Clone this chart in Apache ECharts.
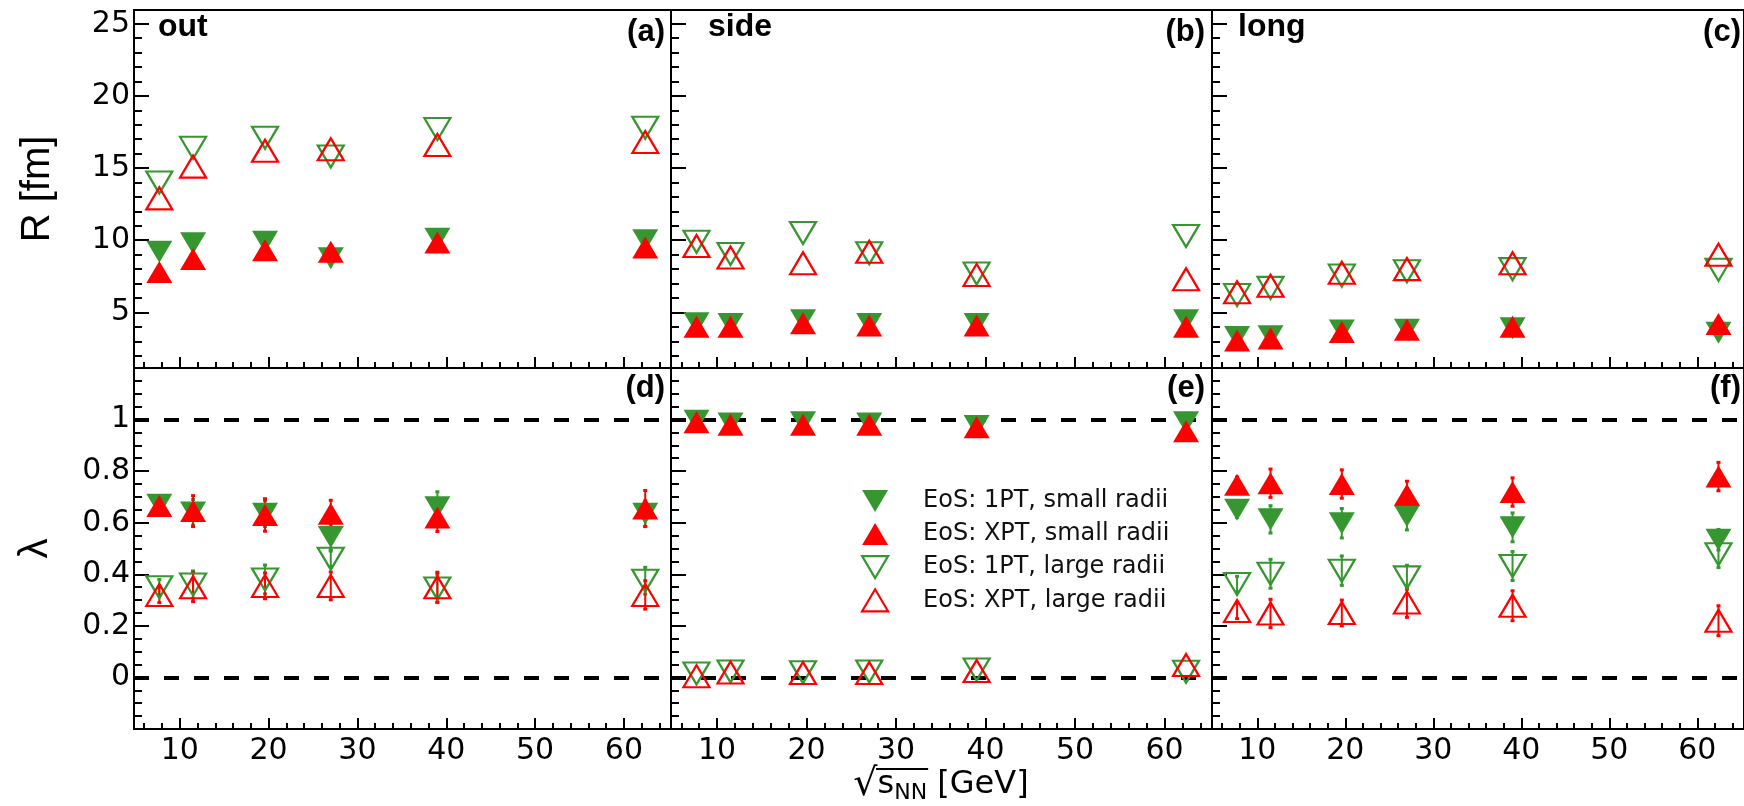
<!DOCTYPE html>
<html><head><meta charset="utf-8">
<script src="https://cdn.jsdelivr.net/npm/echarts@6/dist/echarts.min.js"></script>
<style>html,body{margin:0;padding:0;background:#fff}#c{width:1744px;height:806px}</style>
</head><body><div id="c"></div>
<script>
// ---------------- data ----------------
const energies = [7.7, 11.5, 19.6, 27, 39, 62.4];
const seriesNames = ['EoS: 1PT, small radii', 'EoS: XPT, small radii', 'EoS: 1PT, large radii', 'EoS: XPT, large radii'];

// R_out (panel a)
const Rout_1PT_small = [9.2, 9.8, 9.9, 8.75, 10.1, 10.0];
const Rout_XPT_small = [7.8, 8.7, 9.3, 9.2, 9.85, 9.5];
const Rout_1PT_large = [14.0, 16.4, 17.1, 15.8, 17.7, 17.8];
const Rout_XPT_large = [12.9, 15.1, 16.2, 16.3, 16.6, 16.8];
// R_side (panel b)
const Rside_1PT_small = [4.25, 4.2, 4.45, 4.2, 4.2, 4.45];
const Rside_XPT_small = [4.0, 4.0, 4.25, 4.1, 4.1, 4.0];
const Rside_1PT_large = [9.9, 9.05, 10.5, 9.1, 7.7, 10.3];
const Rside_XPT_large = [9.6, 8.8, 8.4, 9.2, 7.6, 7.3];
// R_long (panel c)
const Rlong_1PT_small = [3.3, 3.35, 3.75, 3.8, 3.9, 3.6];
const Rlong_XPT_small = [3.05, 3.2, 3.65, 3.8, 4.0, 4.2];
const Rlong_1PT_large = [6.2, 6.7, 7.55, 7.85, 8.0, 7.95];
const Rlong_XPT_large = [6.4, 6.85, 7.75, 8.0, 8.4, 9.0];
// lambda out (panel d)
const Lout_1PT_small = [0.67, 0.64, 0.635, 0.545, 0.66, 0.635];
const Lout_XPT_small = [0.665, 0.645, 0.63, 0.635, 0.62, 0.655];
const Lout_1PT_large = [0.35, 0.36, 0.38, 0.46, 0.345, 0.375];
const Lout_XPT_large = [0.32, 0.35, 0.355, 0.355, 0.35, 0.32];
// lambda side (panel e)
const Lside_1PT_small = [0.995, 0.985, 0.99, 0.985, 0.975, 0.99];
const Lside_XPT_small = [0.99, 0.98, 0.98, 0.98, 0.97, 0.955];
const Lside_1PT_large = [0.015, 0.023, 0.02, 0.023, 0.031, 0.022];
const Lside_XPT_large = [0.005, 0.019, 0.017, 0.017, 0.025, 0.048];
// lambda long (panel f)
const Llong_1PT_small = [0.65, 0.613, 0.598, 0.626, 0.582, 0.534];
const Llong_XPT_small = [0.747, 0.753, 0.75, 0.708, 0.719, 0.779];
const Llong_1PT_large = [0.362, 0.402, 0.414, 0.388, 0.432, 0.478];
const Llong_XPT_large = [0.258, 0.248, 0.25, 0.291, 0.278, 0.22];

// lambda uncertainties (panels d and f)
const Lout_1PT_small_err = [0.03, 0.05, 0.05, 0.05, 0.06, 0.05];
const Lout_XPT_small_err = [0.03, 0.06, 0.063, 0.052, 0.054, 0.07];
const Lout_1PT_large_err = [0.03, 0.053, 0.056, 0.03, 0.055, 0.052];
const Lout_XPT_large_err = [0.03, 0.056, 0.05, 0.054, 0.058, 0.055];
const Llong_1PT_small_err = [0.03, 0.053, 0.057, 0.054, 0.056, 0.04];
const Llong_XPT_small_err = [0.03, 0.055, 0.055, 0.053, 0.055, 0.055];
const Llong_1PT_large_err = [0.03, 0.056, 0.057, 0.047, 0.056, 0.052];
const Llong_XPT_large_err = [0.03, 0.055, 0.05, 0.058, 0.058, 0.058];

// tick steps (major / minor); labels: x 10..60, R 5..25, lambda 0..1
const xMajorStep = 10, xMinorStep = 2;
const rMajorStep = 5, rMinorStep = 1;
const lamMajorStep = 0.2, lamMinorStep = 0.05;
const lamRefLines = [0, 1];

const panelTitles = ['out', 'side', 'long'];
const panelTags = ['(a)', '(b)', '(c)', '(d)', '(e)', '(f)'];

// ---------------- layout / style ----------------
const FONT = "'DejaVu Sans', 'Liberation Sans', Arial, sans-serif";
const FONT2 = "'Liberation Sans', Arial, Helvetica, sans-serif";
const GREEN = '#36962f';
const RED = '#ff0000';
const X_MIN = 4.85, X_MAX = 65.3;
const R_MIN = 1.15, R_MAX = 25.95;
const L_MIN = -0.2, L_MAX = 1.2;
const cols = [{left: 134, width: 537}, {left: 671, width: 541}, {left: 1212, width: 537}];
const rows = [{top: 10, height: 358}, {top: 368, height: 361}];
const UP = 'path://M0,22L13,0L26,22Z';
const DOWN = 'path://M0,0L26,0L13,22Z';

const panelData = [
  [Rout_1PT_small, Rout_XPT_small, Rout_1PT_large, Rout_XPT_large],
  [Rside_1PT_small, Rside_XPT_small, Rside_1PT_large, Rside_XPT_large],
  [Rlong_1PT_small, Rlong_XPT_small, Rlong_1PT_large, Rlong_XPT_large],
  [Lout_1PT_small, Lout_XPT_small, Lout_1PT_large, Lout_XPT_large],
  [Lside_1PT_small, Lside_XPT_small, Lside_1PT_large, Lside_XPT_large],
  [Llong_1PT_small, Llong_XPT_small, Llong_1PT_large, Llong_XPT_large]
];
const panelErr = [null, null, null,
  [Lout_1PT_small_err, Lout_XPT_small_err, Lout_1PT_large_err, Lout_XPT_large_err],
  null,
  [Llong_1PT_small_err, Llong_XPT_small_err, Llong_1PT_large_err, Llong_XPT_large_err]
];

const markerColor = [GREEN, RED, GREEN, RED];
const markerStyle = [
  {symbol: DOWN, itemStyle: {color: GREEN, opacity: 1}},
  {symbol: UP, itemStyle: {color: RED, opacity: 1}},
  {symbol: DOWN, itemStyle: {color: 'rgba(0,0,0,0)', borderColor: GREEN, borderWidth: 2.2, opacity: 1}},
  {symbol: UP, itemStyle: {color: 'rgba(0,0,0,0)', borderColor: RED, borderWidth: 2.2, opacity: 1}}
];

const grid = [], xAxis = [], yAxis = [], series = [];
const tickLine = {color: '#000', width: 2};

function stepAxis(base, step, span) {
  return Object.assign(base, {minInterval: step, maxInterval: step, splitNumber: Math.round(span / step)});
}

function errorBarSeries(p, k, vals, errs) {
  const col = markerColor[k];
  return {type: 'custom', xAxisIndex: 2 * p, yAxisIndex: 2 * p, z: 2, silent: true,
    data: energies.map((e, i) => [e, vals[i], errs[i]]),
    encode: {x: 0, y: 1},
    renderItem: function (params, api) {
      const x = api.value(0), y = api.value(1), e = api.value(2);
      const top = api.coord([x, y + e]), bot = api.coord([x, y - e]);
      return {type: 'group', children: [
        {type: 'line', shape: {x1: top[0], y1: top[1], x2: bot[0], y2: bot[1]}, style: {stroke: col, lineWidth: 2}},
        {type: 'rect', shape: {x: top[0] - 2, y: top[1] - 1.5, width: 4, height: 3}, style: {fill: col}},
        {type: 'rect', shape: {x: bot[0] - 2, y: bot[1] - 1.5, width: 4, height: 3}, style: {fill: col}}
      ]};
    }};
}

for (let p = 0; p < 6; p++) {
  const r = Math.floor(p / 3), c = p % 3;
  grid.push({left: cols[c].left, width: cols[c].width, top: rows[r].top, height: rows[r].height,
    show: true, borderColor: '#000', borderWidth: 2, backgroundColor: 'transparent'});
  const lower = r === 1;
  xAxis.push(stepAxis({type: 'value', gridIndex: p, position: 'bottom', min: X_MIN, max: X_MAX,
    axisLine: {show: true, onZero: false, lineStyle: {color: '#000', width: 2}},
    axisTick: {show: true, inside: true, length: 11, lineStyle: tickLine},
    axisLabel: {show: lower, showMinLabel: false, showMaxLabel: false, fontSize: 30, color: '#000', fontFamily: FONT, margin: 7},
    splitLine: {show: false}}, xMajorStep, X_MAX - X_MIN));
  xAxis.push(stepAxis({type: 'value', gridIndex: p, position: 'bottom', min: X_MIN, max: X_MAX,
    axisLine: {show: false, onZero: false},
    axisTick: {show: true, inside: true, length: 6, lineStyle: tickLine},
    axisLabel: {show: false}, splitLine: {show: false}}, xMinorStep, X_MAX - X_MIN));
  const yMin = lower ? L_MIN : R_MIN, yMax = lower ? L_MAX : R_MAX;
  const yMain = stepAxis({type: 'value', gridIndex: p, position: 'left', min: yMin, max: yMax,
    axisLine: {show: true, onZero: false, lineStyle: {color: '#000', width: 2}},
    axisTick: {show: true, inside: true, length: 15, lineStyle: tickLine},
    axisLabel: {show: c === 0, showMinLabel: false, showMaxLabel: false, fontSize: 30, color: '#000', fontFamily: FONT, margin: 4},
    splitLine: {show: false}}, lower ? lamMajorStep : rMajorStep, yMax - yMin);
  if (c === 0) {
    yMain.name = lower ? 'λ' : 'R [fm]';
    yMain.nameLocation = 'middle';
    yMain.nameGap = lower ? 78 : 76;
    yMain.nameTextStyle = {fontSize: 40, color: '#000', fontFamily: FONT2};
  }
  yAxis.push(yMain);
  yAxis.push(stepAxis({type: 'value', gridIndex: p, position: 'left', min: yMin, max: yMax,
    axisLine: {show: false, onZero: false},
    axisTick: {show: true, inside: true, length: 8, lineStyle: tickLine},
    axisLabel: {show: false}, splitLine: {show: false}}, lower ? lamMinorStep : rMinorStep, yMax - yMin));

  for (let k = 0; k < 4; k++) {
    if (panelErr[p]) series.push(errorBarSeries(p, k, panelData[p][k], panelErr[p][k]));
    const s = {type: 'scatter', name: seriesNames[k], xAxisIndex: 2 * p, yAxisIndex: 2 * p,
      data: energies.map((e, i) => [e, panelData[p][k][i]]),
      symbol: markerStyle[k].symbol, symbolSize: [26, 22],
      itemStyle: markerStyle[k].itemStyle, z: 3 + k, silent: true};
    if (lower && k === 0) {
      s.markLine = {silent: true, symbol: 'none', label: {show: false}, z: 2,
        lineStyle: {color: '#000', width: 4, type: [15, 15], opacity: 1},
        data: lamRefLines.map(v => ({yAxis: v}))};
    }
    series.push(s);
  }
}

const graphic = [];
const titleX = [158, 708, 1238];
panelTitles.forEach((t, i) => graphic.push({type: 'text', x: titleX[i], y: 27,
  style: {text: t, fontSize: 32, fontWeight: 'bold', fontFamily: FONT2, fill: '#000', align: 'left', verticalAlign: 'middle'}}));
const tagRight = [665, 1205, 1741];
panelTags.forEach((t, i) => graphic.push({type: 'text', x: tagRight[i % 3], y: i < 3 ? 32 : 388,
  style: {text: t, fontSize: 31, fontWeight: 'bold', fontFamily: FONT2, fill: '#000', align: 'right', verticalAlign: 'middle'}}));

// x-axis title with radical overline
const TITLE_CX = 941, TITLE_CY = 785;
const titleRich = {
  a: {fontSize: 38, fontFamily: FONT, lineHeight: 46},
  b: {fontSize: 32, fontFamily: FONT, lineHeight: 46},
  c: {fontSize: 22, fontFamily: FONT, lineHeight: 46, padding: [16, 0, 0, 0]},
  d: {fontSize: 32, fontFamily: FONT, lineHeight: 46}
};
graphic.push({type: 'text', x: TITLE_CX, y: TITLE_CY, z: 10,
  style: {text: '{a|√}{b|s}{c|NN}{d| [GeV]}', align: 'center', verticalAlign: 'middle', fill: '#000', rich: titleRich}});
(function () {
  const ctx = document.createElement('canvas').getContext('2d');
  const w = (t, size) => { ctx.font = size + 'px ' + FONT; return ctx.measureText(t).width; };
  const wA = w('√', 38), wB = w('s', 32), wC = w('NN', 22), wD = w(' [GeV]', 32);
  const x0 = TITLE_CX - (wA + wB + wC + wD) / 2;
  graphic.push({type: 'line', z: 10, shape: {x1: x0 + wA - 1.5, y1: 769, x2: x0 + wA + wB + wC + 1, y2: 769},
    style: {stroke: '#000', lineWidth: 2}});
})();

const option = {
  animation: false,
  backgroundColor: '#fff',
  grid, xAxis, yAxis, series, graphic,
  legend: {
    orient: 'vertical', left: 856, top: 484, itemWidth: 26, itemHeight: 22, itemGap: 9,
    selectedMode: false,
    formatter: '{g|}{name}',
    textStyle: {fontSize: 24, color: '#111', fontFamily: FONT, rich: {g: {width: 30}}},
    data: seriesNames.map((n, k) => ({name: n, icon: markerStyle[k].symbol, itemStyle: markerStyle[k].itemStyle}))
  }
};
const chart = echarts.init(document.getElementById('c'), null, {renderer: 'canvas'});
chart.setOption(option);
</script></body></html>
